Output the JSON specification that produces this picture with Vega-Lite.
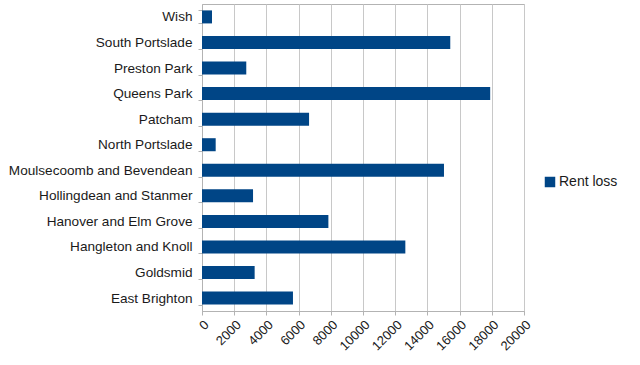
{
  "$schema": "https://vega.github.io/schema/vega-lite/v6.json",
  "width": 322,
  "height": 307,
  "autosize": {"type": "none"},
  "padding": {"left": 202, "top": 4, "right": 116, "bottom": 54},
  "background": "white",
  "config": {
    "view": {"stroke": "#b3b3b3", "strokeWidth": 1},
    "font": "Liberation Sans"
  },
  "data": {
    "values": [
      {"ward": "Wish", "value": 620},
      {"ward": "South Portslade", "value": 15420},
      {"ward": "Preston Park", "value": 2750},
      {"ward": "Queens Park", "value": 17900},
      {"ward": "Patcham", "value": 6650},
      {"ward": "North Portslade", "value": 850},
      {"ward": "Moulsecoomb and Bevendean", "value": 15030},
      {"ward": "Hollingdean and Stanmer", "value": 3170},
      {"ward": "Hanover and Elm Grove", "value": 7850},
      {"ward": "Hangleton and Knoll", "value": 12630},
      {"ward": "Goldsmid", "value": 3270},
      {"ward": "East Brighton", "value": 5650}
    ]
  },
  "mark": {"type": "bar"},
  "encoding": {
    "y": {
      "field": "ward",
      "type": "nominal",
      "sort": null,
      "scale": {"paddingInner": 0.49, "paddingOuter": 0.25},
      "axis": {
        "title": null,
        "labelFontSize": 13.6,
        "labelLimit": 400,
        "labelColor": "#1a1a1a",
        "labelPadding": 6,
        "tickBand": "extent",
        "tickSize": 4,
        "tickColor": "#b3b3b3",
        "domainColor": "#b3b3b3",
        "grid": false
      }
    },
    "x": {
      "field": "value",
      "type": "quantitative",
      "scale": {"domain": [0, 20000], "nice": false},
      "axis": {
        "title": null,
        "values": [0, 2000, 4000, 6000, 8000, 10000, 12000, 14000, 16000, 18000, 20000],
        "format": "d",
        "labelAngle": -45,
        "labelAlign": "right",
        "labelBaseline": "top",
        "labelFontSize": 13,
        "labelColor": "#1a1a1a",
        "labelPadding": 3,
        "tickSize": 4,
        "tickColor": "#b3b3b3",
        "domainColor": "#b3b3b3",
        "grid": true,
        "gridColor": "#c8c8c8",
        "labelOverlap": false,
        "labelFlush": false
      }
    },
    "color": {
      "field": "series",
      "type": "nominal",
      "datum": "Rent loss",
      "scale": {"range": ["#004586"]},
      "legend": {
        "title": null,
        "orient": "none",
        "legendX": 341,
        "legendY": 171,
        "symbolType": "square",
        "symbolSize": 110,
        "labelFontSize": 14,
        "labelColor": "#1a1a1a",
        "labelOffset": 2
      }
    }
  }
}
